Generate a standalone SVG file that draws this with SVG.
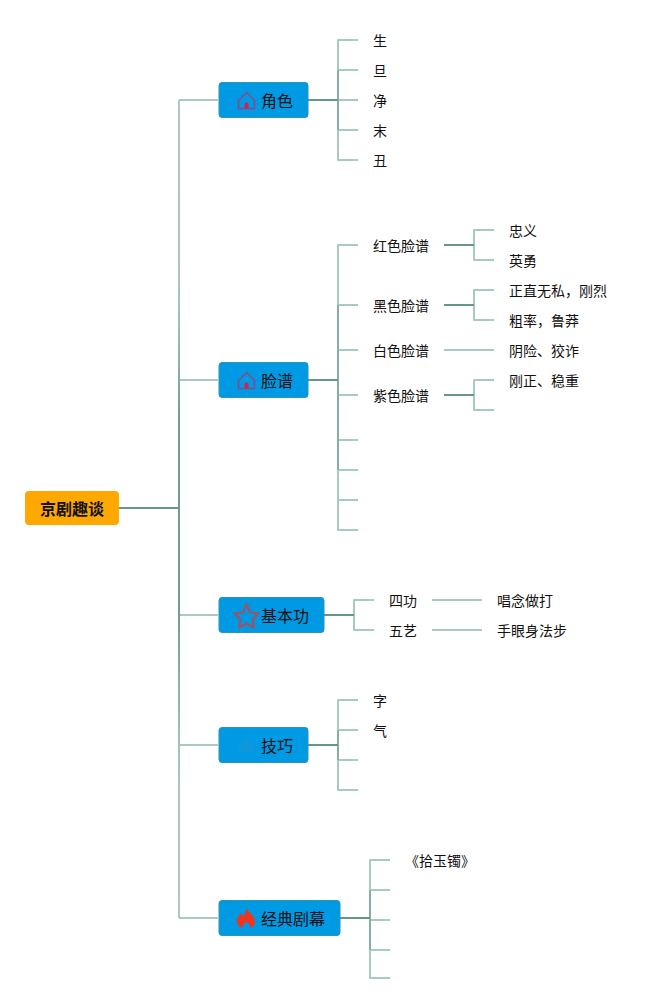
<svg xmlns="http://www.w3.org/2000/svg" width="667" height="1003" viewBox="0 0 667 1003">
<defs>
<linearGradient id="tr" gradientUnits="userSpaceOnUse" x1="0" y1="100" x2="0" y2="918">
<stop offset="0" stop-color="#abcbc2"/><stop offset="0.25" stop-color="#a3c6bc"/><stop offset="0.4" stop-color="#6f9c8f"/><stop offset="0.62" stop-color="#6f9c8f"/><stop offset="0.8" stop-color="#a3c6bc"/><stop offset="1" stop-color="#abcbc2"/>
</linearGradient>
</defs>
<style>
text{font-family:"Noto Sans CJK SC","Liberation Sans",sans-serif;fill:#111;dominant-baseline:central}
.t{font-size:14px}
.n{font-size:16px}
.b{fill:#0099e3;stroke:#2f96a8;stroke-width:1}
.l,.d,.m{fill:none;stroke-linejoin:round}
.l{stroke:#a9cac0;stroke-width:2}
.m{stroke:#86aea3;stroke-width:2}
.d{stroke:#659688;stroke-width:2}
.h{fill:none;stroke:#8a4a86;stroke-width:1.5}
</style>
<rect width="667" height="1003" fill="#fff"/>
<g id="connectors">
<path class="l" d="M218 100H179M179 615H218M179 918H218M179 380H218M179 745H218"/>
<path d="M179 100V918" fill="none" stroke="url(#tr)" stroke-width="2"/>
<path class="d" d="M119 508H179"/>
<path class="l" d="M358 40H338V70M338 70H358M338 100H358M338 130H358M338 130V160H358"/>
<path class="m" d="M338 70V130"/>
<path class="d" d="M308 100H338"/>
<path class="l" d="M358 245H338V305M338 305H358M338 350H358M338 395H358M338 440H358M338 470H358M338 500H358M338 470V530H358"/>
<path class="m" d="M338 305V470"/>
<path class="d" d="M308 380H338"/>
<path class="l" d="M494 230H474V260H494M494 290H474V320H494M444 350H494M494 380H474V410H494"/>
<path class="d" d="M444 245H474M444 305H474M444 395H474"/>
<path class="l" d="M374 600H354V630H374M432 600H482M432 630H482"/>
<path class="d" d="M324 615H354"/>
<path class="l" d="M358 700H338V730M338 730H358M338 760H358M338 760V790H358"/>
<path class="m" d="M338 730V760"/>
<path class="d" d="M308 745H338"/>
<path class="l" d="M390 860H370V890M370 890H390M370 920H390M370 950H390M370 950V978H390"/>
<path class="m" d="M370 890V950"/>
<path class="d" d="M340 918H370"/>
</g>
<g id="root"><rect x="25" y="491" width="94" height="34" rx="4" fill="#ffa800"/><text class="n" x="72" y="507.500" text-anchor="middle" font-weight="700">京剧趣谈</text></g>
<g id="n1"><rect class="b" x="219" y="82.500" width="89" height="35" rx="3"/>
<path class="h" d="M238.500 100.500L246.500 92.500L254.500 100.500V108.500H238.500Z"/><path d="M244.500 108V104.500a2 2 0 0 1 4 0V108Z" fill="#d81e4a"/>
<text class="n" x="261" y="99.500">角色</text></g>
<g id="n2"><rect class="b" x="219" y="362.500" width="89" height="35" rx="3"/>
<path class="h" d="M238.500 380.500L246.500 372.500L254.500 380.500V388.500H238.500Z"/><path d="M244.500 388V384.500a2 2 0 0 1 4 0V388Z" fill="#d81e4a"/>
<text class="n" x="261" y="379.500">脸谱</text></g>
<g id="n3"><rect class="b" x="219" y="597.500" width="105" height="35" rx="3"/>
<path d="M246.500 604L250 612.500L258.500 613.500L252.500 619.500L254 627.500L246.500 623.500L239 627.500L240.500 619.500L234.500 613.500L243 612.500Z" fill="none" stroke="#a5505f" stroke-width="2" stroke-linejoin="round"/>
<text class="n" x="261" y="615">基本功</text></g>
<g id="n4"><rect class="b" x="219" y="727.500" width="89" height="35" rx="3"/>
<path d="M238.500 746L246 738L254 746V752H238.500Z" fill="#0f97dd"/>
<text class="n" x="261" y="745">技巧</text></g>
<g id="n5"><rect class="b" x="219" y="900.500" width="121" height="35" rx="3"/>
<path d="M247 908C248 913 255 915 255 922C255 925 253 927 250 928C251 926 250 924 246 922C243 924 242 926 243 928C239 927 237 925 237 921C237 917 240 915 241 913C242 915 243 916 244 916C245 913 246 911 247 908Z" fill="#f0341e"/>
<text class="n" x="261" y="918">经典剧幕</text></g>
<g id="leaves">
<text class="t" x="373" y="40">生</text><text class="t" x="373" y="70">旦</text><text class="t" x="373" y="100">净</text><text class="t" x="373" y="130">末</text><text class="t" x="373" y="160">丑</text>
<text class="t" x="373" y="245">红色脸谱</text><text class="t" x="373" y="305">黑色脸谱</text><text class="t" x="373" y="350">白色脸谱</text><text class="t" x="373" y="395">紫色脸谱</text>
<text class="t" x="509" y="230">忠义</text><text class="t" x="509" y="260">英勇</text><text class="t" x="509" y="290">正直无私，刚烈</text><text class="t" x="509" y="320">粗率，鲁莽</text><text class="t" x="509" y="350">阴险、狡诈</text><text class="t" x="509" y="380">刚正、稳重</text>
<text class="t" x="389" y="600">四功</text><text class="t" x="389" y="630">五艺</text><text class="t" x="497" y="600">唱念做打</text><text class="t" x="497" y="630">手眼身法步</text>
<text class="t" x="373" y="700">字</text><text class="t" x="373" y="730">气</text>
<text class="t" x="405" y="860">《拾玉镯》</text>
</g>
</svg>
